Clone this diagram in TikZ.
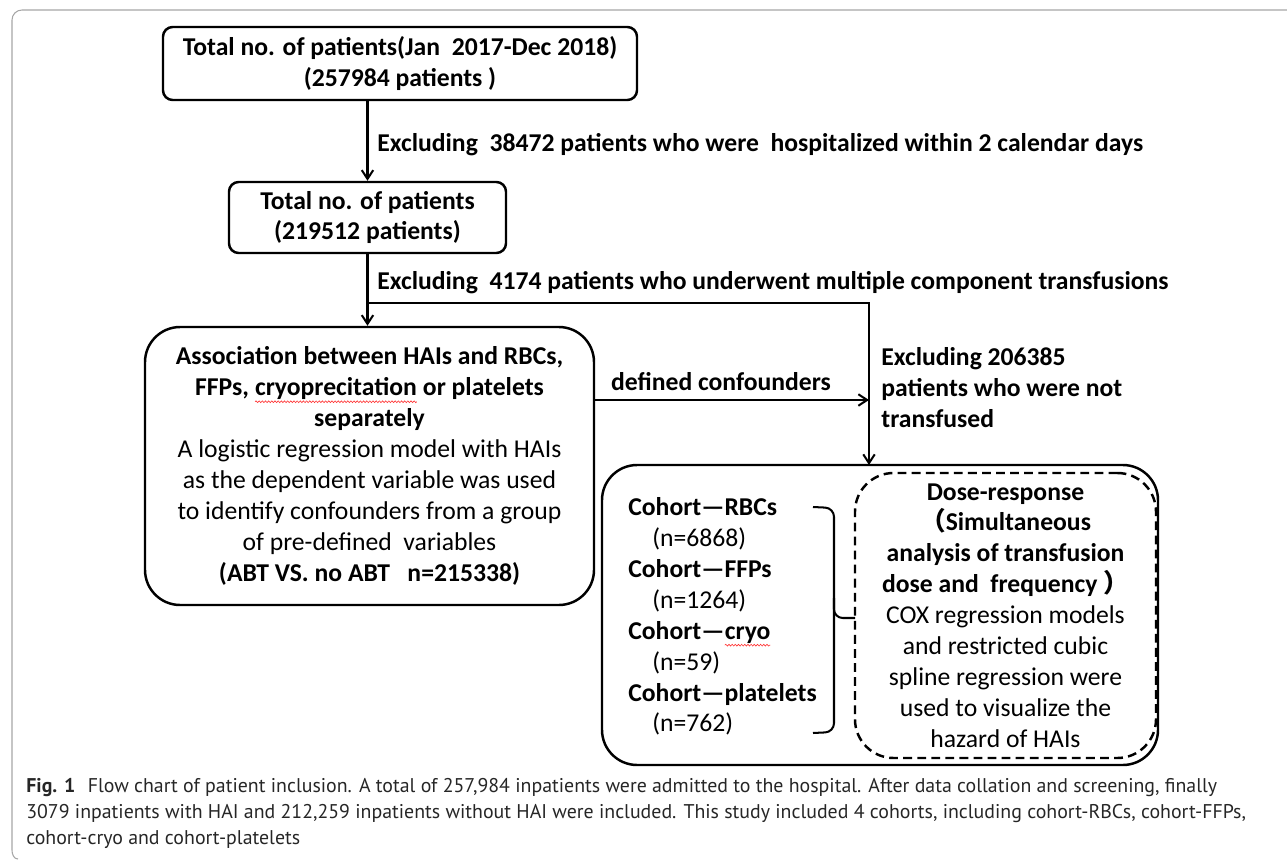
\documentclass[tikz,border=0pt]{standalone}
\usepackage{fontspec}
\setmainfont{Carlito}
\newfontfamily\capfont{PT Sans}
\newfontfamily\cjk{Noto Sans CJK SC}
\usetikzlibrary{arrows.meta,positioning,decorations.pathmorphing}

\newcommand\spellwave[1]{\tikz[baseline=(spw.base),x=1cm,y=1cm,sharp corners,solid]{%
  \node[inner sep=0pt,outer sep=0pt,minimum width=0pt,minimum height=0pt,draw=none,anchor=base] (spw) {#1};
  \draw[red!80,line width=0.35pt,decorate,decoration={snake,amplitude=0.5pt,segment length=1.8pt}]
    ([yshift=-3.4pt]spw.base west) -- ([yshift=-3.4pt]spw.base east);}}
\newcommand\flowfont{\fontsize{14.6pt}{17.6pt}\selectfont}

\tikzset{
  flowbox/.style={draw,line width=1.4pt,rounded corners=5.5pt,align=center,inner sep=0pt,font=\flowfont\bfseries},
  bigbox/.style={flowbox,rounded corners=20pt},
  note/.style={inner sep=0pt,font=\flowfont\bfseries,align=left},
  arr/.style={line width=1.15pt,-{Straight Barb[length=5pt,width=6.5pt]}}
}

\begin{document}
\begin{tikzpicture}[x=0.2mm,y=-0.2mm]
\useasboundingbox (0,0) rectangle (1287,860);
% frame of the figure
\draw[gray!70,line width=0.6pt] (1290,10) -- (22,10) to[out=180,in=90] (12,20) -- (12,850) to[out=-90,in=180] (18,859);

\node[flowbox,minimum width=474*0.2mm,minimum height=73*0.2mm] (total) at (400,63.5)
  {Total no. of patients(Jan\ \ 2017-Dec 2018)\\(257984 patients )};
\node[flowbox,minimum width=277*0.2mm,minimum height=71*0.2mm] (total2) at (367.5,217.5)
  {Total no. of patients\\(219512 patients)};
\node[bigbox,minimum width=449*0.2mm,minimum height=278*0.2mm] (assoc) at (369.5,466)
  {Association between HAIs and RBCs,\\FFPs, \spellwave{cryoprecitation} or platelets\\separately\\
   \mdseries A logistic regression model with HAIs\\\mdseries as the dependent variable was used\\
   \mdseries to identify confounders from a group\\\mdseries of pre-defined\ \ variables\\
   (ABT VS. no ABT\ \ \ n=215338)};
\node[bigbox,minimum width=556*0.2mm,minimum height=300*0.2mm] (cohort) at (880,615) {};
\node[bigbox,rounded corners=22pt,dash pattern=on 5pt off 3pt,minimum width=301*0.2mm,minimum height=285*0.2mm] (dose) at (1005.5,615.5)
  {Dose-response\\{\cjk （}Simultaneous\\analysis of transfusion\\dose and\ \ frequency {\cjk ）}\\
   \mdseries COX regression models\\\mdseries and restricted cubic\\\mdseries spline regression were\\
   \mdseries used to visualize the\\\mdseries hazard of HAIs};
\node[note,anchor=west] (list) at (628,616.5)
  {Cohort---RBCs\\\hspace*{4.8mm}\mdseries(n=6868)\\Cohort---FFPs\\\hspace*{4.8mm}\mdseries(n=1264)\\
   Cohort---\spellwave{cryo}\\\hspace*{4.8mm}\mdseries(n=59)\\Cohort---platelets\\\hspace*{4.8mm}\mdseries(n=762)};

% exclusion labels
\node[note,anchor=west] (ex1) at (377,145) {Excluding\ \ 38472 patients who were\ \ hospitalized within 2 calendar days};
\node[note,anchor=west] (ex2) at (377,283) {Excluding\ \ 4174 patients who underwent multiple component transfusions};
\node[note,anchor=west] (ex3) at (881,388) {Excluding 206385\\patients who were not\\transfused};
\node[note,anchor=south] (conf) at (721,391) {defined confounders};

\coordinate (split) at (367.5,303);
\coordinate (join) at (869,400);
\coordinate (entry) at (869,465);

\draw[arr] (total2.north |- total.south) -- (total2.north);
\draw[arr] (total2.south) -- (assoc.north -| total2.south);
\draw[arr] (split) -| (entry);
\draw[arr] (assoc.east |- join) -- (join);
% bracket joining the cohorts
\draw[line width=1.15pt,rounded corners=5pt] (813,507) -- (834,508) -- (834,618) -- (855,618);
\draw[line width=1.15pt,rounded corners=5pt] (834,598) -- (834,732) -- (813,733);

% caption
\node[inner sep=0pt,anchor=north west,align=left,text=black!85,font=\capfont\fontsize{11.3pt}{14.7pt}\selectfont] (caption) at (26,778)
  {\textbf{Fig. 1}\hspace{2.5mm}Flow chart of patient inclusion. A total of 257,984 inpatients were admitted to the hospital. After data collation and screening, finally\\
   3079 inpatients with HAI and 212,259 inpatients without HAI were included. This study included 4 cohorts, including cohort-RBCs, cohort-FFPs,\\
   cohort-cryo and cohort-platelets};
\end{tikzpicture}
\end{document}
